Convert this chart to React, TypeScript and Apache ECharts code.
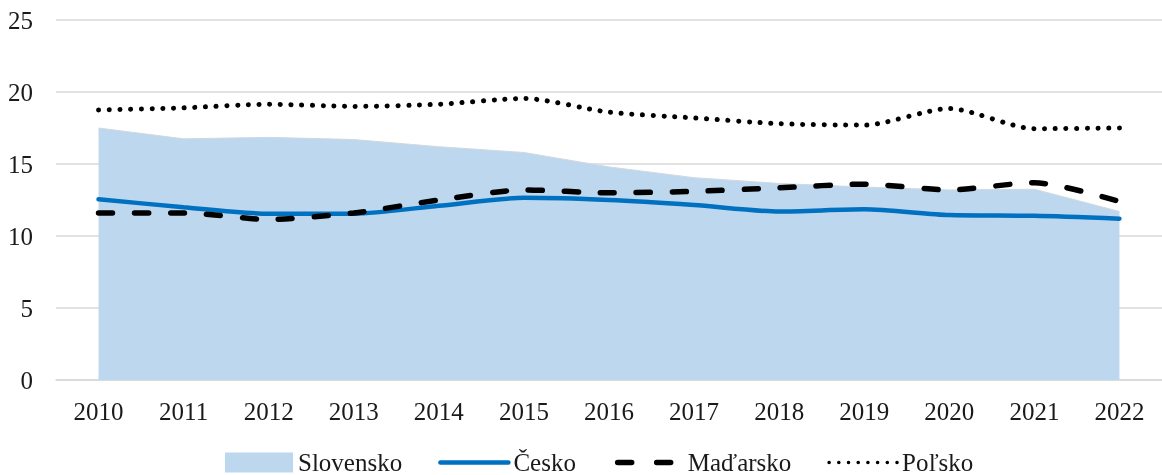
import React, { useEffect, useRef } from "react";
import * as echarts from "echarts";

const years = ["2010", "2011", "2012", "2013", "2014", "2015", "2016", "2017", "2018", "2019", "2020", "2021", "2022"];
const slovensko = [17.5, 16.75, 16.85, 16.7, 16.2, 15.8, 14.8, 14.05, 13.65, 13.4, 13.2, 13.25, 11.7];
const cesko = [12.55, 12.0, 11.55, 11.55, 12.1, 12.65, 12.5, 12.15, 11.7, 11.85, 11.45, 11.4, 11.2];
const madarsko = [11.6, 11.6, 11.15, 11.6, 12.5, 13.2, 13.0, 13.1, 13.35, 13.6, 13.2, 13.7, 12.4];
const polsko = [18.75, 18.9, 19.15, 19.0, 19.15, 19.55, 18.6, 18.2, 17.8, 17.7, 18.85, 17.45, 17.5];
const yTicks = { min: 0, max: 25, interval: 5 };

const FONT = "'Liberation Serif', 'DejaVu Serif', serif";

export default function App() {
  const ref = useRef<HTMLDivElement>(null);
  useEffect(() => {
    if (!ref.current) return;
    const chart = echarts.init(ref.current, undefined, { renderer: "svg" });
    chart.setOption({
      animation: false,
      textStyle: { fontFamily: FONT },
      grid: { left: 56, right: -7, top: 20, bottom: 95 },
      legend: {
        left: 220,
        top: 445,
        itemWidth: 68,
        itemHeight: 20,
        itemGap: 36,
        textStyle: { fontFamily: FONT, fontSize: 25, color: "#1a1a1a" },
        data: [
          { name: "Slovensko", icon: "rect" },
          {
            name: "Česko",
            itemStyle: { opacity: 0 },
            lineStyle: { width: 4.5, color: "#0070C0", cap: "round" },
          },
          {
            name: "Maďarsko",
            itemStyle: { opacity: 0 },
            lineStyle: { width: 5.5, color: "#000000", type: [14, 25], dashOffset: -3, cap: "round" },
          },
          {
            name: "Poľsko",
            itemStyle: { opacity: 0 },
            lineStyle: { width: 3.5, color: "#000000", type: [0.1, 9.6], cap: "round" },
          },
        ],
      },
      xAxis: {
        type: "category",
        data: years,
        boundaryGap: true,
        axisLine: { show: true, lineStyle: { color: "#D9D9D9", width: 1.5 } },
        axisTick: { show: false },
        axisLabel: { fontFamily: FONT, fontSize: 25, color: "#1a1a1a", margin: 19 },
      },
      yAxis: {
        type: "value",
        min: yTicks.min,
        max: yTicks.max,
        interval: yTicks.interval,
        axisLine: { show: false },
        axisTick: { show: false },
        splitLine: { lineStyle: { color: "#D9D9D9", width: 1.5 } },
        axisLabel: { fontFamily: FONT, fontSize: 25, color: "#1a1a1a", margin: 23 },
      },
      series: [
        {
          name: "Slovensko",
          type: "line",
          data: slovensko,
          symbol: "none",
          itemStyle: { color: "#BDD7EE" },
          lineStyle: { width: 1, color: "#D0D8E0" },
          areaStyle: { color: "#BDD7EE", opacity: 1 },
          z: 1,
        },
        {
          name: "Česko",
          type: "line",
          data: cesko,
          symbol: "none",
          smooth: 0.25,
          itemStyle: { color: "#0070C0" },
          lineStyle: { width: 4.5, color: "#0070C0", cap: "round" },
          z: 3,
        },
        {
          name: "Maďarsko",
          type: "line",
          data: madarsko,
          symbol: "none",
          smooth: 0.25,
          itemStyle: { color: "#000000" },
          lineStyle: { width: 5.5, color: "#000000", type: [14, 22], cap: "round" },
          z: 4,
        },
        {
          name: "Poľsko",
          type: "line",
          data: polsko,
          symbol: "none",
          smooth: 0.25,
          itemStyle: { color: "#000000" },
          lineStyle: { width: 5, color: "#000000", type: [0.1, 10.6], cap: "round" },
          z: 5,
        },
      ],
    });
    return () => chart.dispose();
  }, []);
  return <div ref={ref} style={{ position: "fixed", left: 0, top: 0, width: 1162, height: 475 }} />;
}
